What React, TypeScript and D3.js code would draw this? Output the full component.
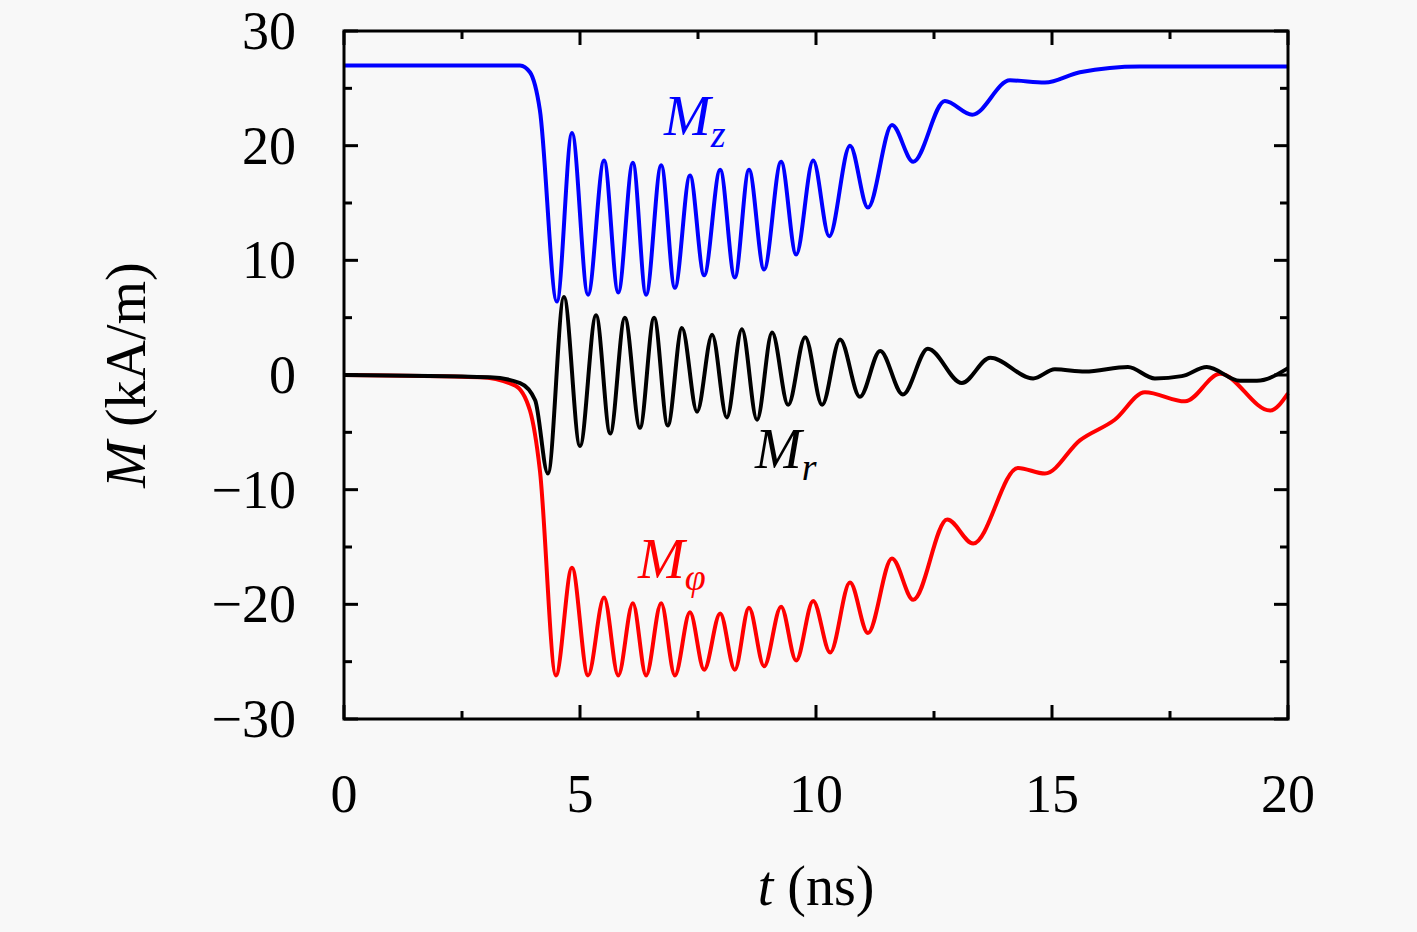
import React from "react";
import * as d3 from "d3";

const xTicks = [0, 5, 10, 15, 20];
const yTicks = [-30, -20, -10, 0, 10, 20, 30];

const mzData: [number, number][] = [
  [0, 27.0], [3.73, 27.0], [3.94, 26.4], [4.15, 23.1], [4.51, 6.4], [4.83, 21.1], [5.17, 7.0],
  [5.51, 18.7], [5.81, 7.2], [6.12, 18.5], [6.40, 7.0], [6.72, 18.3], [7.01, 7.6], [7.33, 17.4],
  [7.63, 8.7], [7.97, 17.9], [8.28, 8.5], [8.58, 17.9], [8.90, 9.2], [9.26, 18.6], [9.58, 10.5],
  [9.94, 18.7], [10.28, 12.1], [10.72, 20.0], [11.10, 14.6], [11.61, 21.8], [12.06, 18.6],
  [12.73, 23.9], [13.31, 22.7], [14.11, 25.7], [14.85, 25.5], [15.59, 26.4], [16.86, 26.9],
  [18.14, 26.9], [20, 26.9],
];

const mrData: [number, number][] = [
  [0, 0], [3.09, -0.2], [3.73, -0.7], [4.05, -2.2], [4.32, -8.6], [4.66, 6.8], [5.0, -6.2],
  [5.34, 5.2], [5.64, -5.1], [5.95, 5.0], [6.27, -4.6], [6.57, 5.0], [6.86, -4.4], [7.16, 4.1],
  [7.48, -3.2], [7.80, 3.5], [8.11, -3.7], [8.43, 4.0], [8.75, -3.9], [9.07, 3.7], [9.41, -2.6],
  [9.77, 3.3], [10.13, -2.6], [10.51, 3.1], [10.93, -1.9], [11.36, 2.1], [11.84, -1.7],
  [12.37, 2.3], [13.09, -0.7], [13.69, 1.5], [14.60, -0.3], [15.06, 0.5], [15.7, 0.3],
  [16.61, 0.7], [17.18, -0.3], [17.75, -0.1], [18.28, 0.7], [18.98, -0.5], [19.34, -0.5], [20, 0.6],
];

const mphiData: [number, number][] = [
  [0, 0], [2.88, -0.2], [3.62, -0.9], [3.94, -3.1], [4.15, -8.3], [4.49, -26.2], [4.83, -16.8],
  [5.17, -26.2], [5.51, -19.4], [5.81, -26.2], [6.12, -19.9], [6.40, -26.2], [6.72, -19.9],
  [7.01, -26.2], [7.33, -20.7], [7.63, -25.7], [7.97, -20.8], [8.28, -25.7], [8.58, -20.3],
  [8.90, -25.4], [9.26, -20.2], [9.58, -24.9], [9.94, -19.7], [10.30, -24.2], [10.72, -18.1],
  [11.10, -22.5], [11.61, -16.0], [12.06, -19.6], [12.78, -12.6], [13.33, -14.7], [14.28, -8.1],
  [14.85, -8.6], [15.59, -5.7], [16.33, -3.9], [16.97, -1.5], [17.82, -2.3], [18.56, 0.1],
  [19.62, -3.1], [20, -1.6],
];

const W = 1417, H = 932;
const L = 344, R = 1288, T = 31, B = 719;
const FONT = "'Liberation Serif', 'DejaVu Serif', serif";

export default function App() {
  const x = d3.scaleLinear().domain([0, 20]).range([L, R]);
  const y = d3.scaleLinear().domain([-30, 30]).range([B, T]);
  const line = d3.line<[number, number]>().x(d => x(d[0])).y(d => y(d[1])).curve(d3.curveMonotoneX);
  const xMinor = d3.range(0, 20.01, 2.5);
  const yMinor = d3.range(-30, 30.01, 5);
  const fmt = (v: number) => (v < 0 ? "\u2212" + Math.abs(v) : String(v));
  return (
    <svg width={W} height={H} style={{ position: "absolute", left: 0, top: 0, background: "#f8f8f8" }} fontFamily={FONT}>
      <rect x={0} y={0} width={W} height={H} fill="#f8f8f8" />
      <path d={line(mzData)!} fill="none" stroke="#0000ff" strokeWidth={4} />
      <path d={line(mphiData)!} fill="none" stroke="#ff0000" strokeWidth={4} />
      <path d={line(mrData)!} fill="none" stroke="#000" strokeWidth={4} />
      <rect x={L} y={T} width={R - L} height={B - T} fill="none" stroke="#000" strokeWidth={3} />
      {xMinor.map(t => {
        const len = t % 5 === 0 ? 14 : 8;
        return (
          <g key={"xt" + t}>
            <line x1={x(t)} x2={x(t)} y1={B} y2={B - len} stroke="#000" strokeWidth={3} />
            <line x1={x(t)} x2={x(t)} y1={T} y2={T + len} stroke="#000" strokeWidth={3} />
          </g>
        );
      })}
      {yMinor.map(v => {
        const len = v % 10 === 0 ? 14 : 8;
        return (
          <g key={"yt" + v}>
            <line x1={L} x2={L + len} y1={y(v)} y2={y(v)} stroke="#000" strokeWidth={3} />
            <line x1={R} x2={R - len} y1={y(v)} y2={y(v)} stroke="#000" strokeWidth={3} />
          </g>
        );
      })}
      {xTicks.map(t => (
        <text key={"xl" + t} x={x(t)} y={B + 93} textAnchor="middle" fontSize={54}>{t}</text>
      ))}
      {yTicks.map(v => (
        <text key={"yl" + v} x={L - 48} y={y(v) + 18} textAnchor="end" fontSize={54}>{fmt(v)}</text>
      ))}
      <text x={816} y={905} textAnchor="middle" fontSize={56}>
        <tspan fontStyle="italic">t</tspan> (ns)
      </text>
      <text transform="translate(145,375) rotate(-90)" textAnchor="middle" fontSize={56}>
        <tspan fontStyle="italic">M</tspan> (kA/m)
      </text>
      <text x={664} y={135} fontSize={56} fill="#0000ff" fontStyle="italic">
        M<tspan fontSize={38} dy={12}>z</tspan>
      </text>
      <text x={755} y={468} fontSize={56} fill="#000" fontStyle="italic">
        M<tspan fontSize={38} dy={12}>r</tspan>
      </text>
      <text x={638} y={578} fontSize={56} fill="#ff0000" fontStyle="italic">
        M<tspan fontSize={38} dy={12}>φ</tspan>
      </text>
    </svg>
  );
}
